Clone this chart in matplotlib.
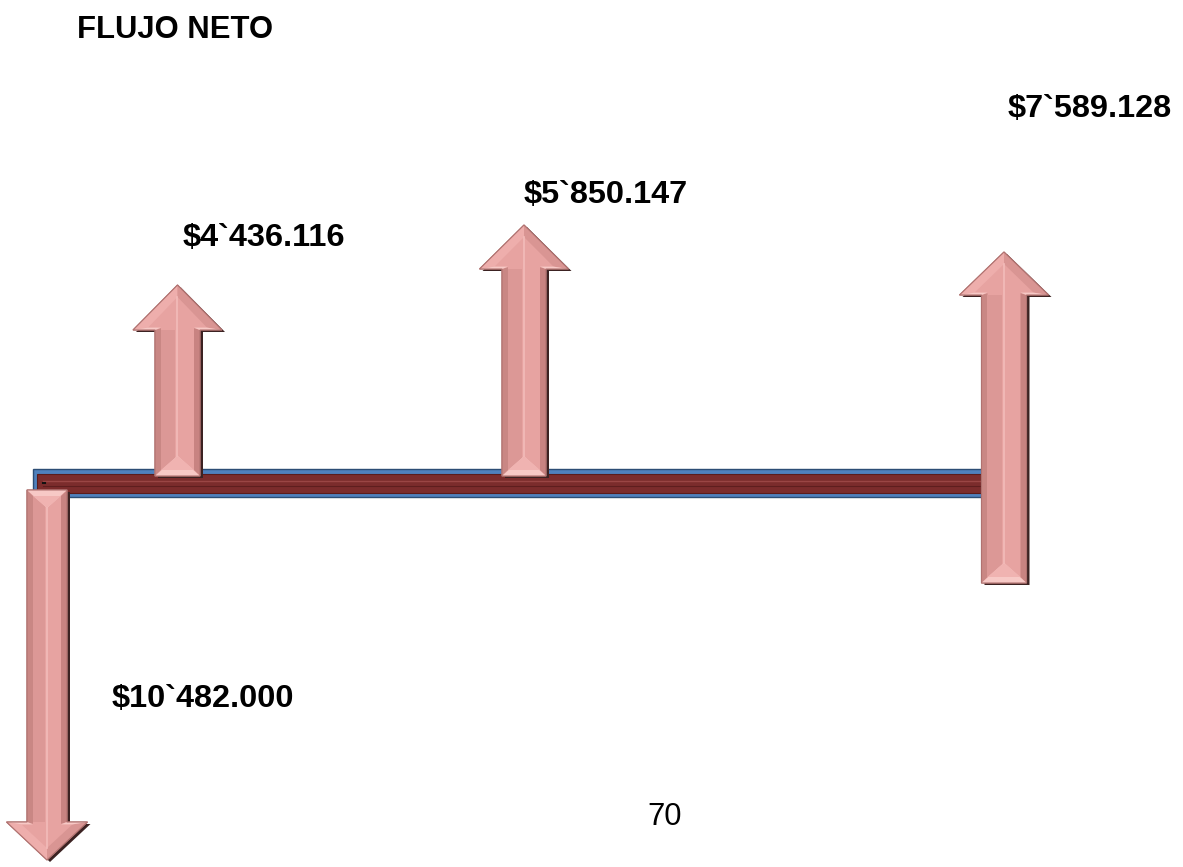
import matplotlib as mpl
import matplotlib.pyplot as plt
from matplotlib.patches import Polygon, Rectangle

mpl.rc("font", family=["Liberation Sans", "DejaVu Sans"])

# net cash flow per period (diagram values)
periods = [0, 1, 2, 3]
flows = [-10482000, 4436116, 5850147, 7589128]
flow_labels = ["$10`482.000", "$4`436.116", "$5`850.147", "$7`589.128"]
title = "FLUJO NETO"
page_number = "70"

# layout of the diagram (pixel space of the page)
W, H = 1183, 867
arrow_x = [47, 177.5, 524, 1004]
arrow_base = [490, 476, 476, 583]      # end of the shaft away from the tip
arrow_tip = [860, 285, 225, 252]
shaft_hw = [20, 22.5, 22, 22.5]
head_hw = [40.5, 44.5, 44.5, 44.5]
head_len = [38, 45, 44, 43]
label_xy = [(112, 707), (183, 246), (524, 203), (1008, 117)]

line_x0, line_x1 = 33, 1024
line_y0, line_y1 = 469, 497

PINK = "#e7a3a1"
PINK_DARK = "#c98784"
PINK_LIGHT = "#f7c9c6"
PINK_EDGE = "#b07270"
SHADOW = "#3c2222"


def draw_arrow(ax, cx, base, tip, w, hw, hl):
    s = 1 if tip < base else -1          # +1 for up arrows
    hb = tip + s * hl                   # head base y
    b = 6                               # bevel size
    outline = [(cx - w, base), (cx - w, hb), (cx - hw, hb), (cx, tip),
               (cx + hw, hb), (cx + w, hb), (cx + w, base)]
    shadow = [(x + 3, y + 2) for x, y in outline]
    ax.add_patch(Polygon(shadow, closed=True, fc=SHADOW, ec="none", zorder=3))
    ax.add_patch(Polygon(outline, closed=True, fc=PINK, ec=PINK_EDGE, lw=0.8, zorder=4))
    # shaft faces
    ax.add_patch(Polygon([(cx - w, base), (cx - w, hb), (cx - w + b, hb - s * b * 0.3),
                          (cx - w + b, base - s * b)], fc=PINK_DARK, ec="none", zorder=5))
    ax.add_patch(Polygon([(cx - w + b, base - s * b), (cx - w + b, hb), (cx - 2, hb),
                          (cx - 2, base - s * b)], fc="#dc9896", ec="none", zorder=5))
    ax.add_patch(Polygon([(cx + w, base), (cx + w, hb), (cx + w - b, hb - s * b * 0.3),
                          (cx + w - b, base - s * b)], fc="#c88381", ec="none", zorder=5))
    ax.add_patch(Polygon([(cx - w, base), (cx + w, base), (cx, base - s * w * 0.9)],
                         fc=PINK_LIGHT, ec="none", zorder=6))
    ax.add_patch(Polygon([(cx - w + b, base - s * b), (cx + w - b, base - s * b),
                          (cx, base - s * w * 0.9)], fc="#f0b3b1", ec="none", zorder=6))
    # head faces
    ax.add_patch(Polygon([(cx - hw, hb), (cx, tip), (cx, tip + s * 2 * b),
                          (cx - hw + 2.5 * b, hb - s * b * 0.4)],
                         fc="#eeaeac", ec="none", zorder=5))
    ax.add_patch(Polygon([(cx + hw, hb), (cx, tip), (cx, tip + s * 2 * b),
                          (cx + hw - 2.5 * b, hb - s * b * 0.4)],
                         fc="#d99593", ec="none", zorder=5))
    ax.add_patch(Polygon([(cx - w, hb), (cx - hw, hb), (cx - hw + 2.5 * b, hb - s * b * 0.4),
                          (cx - w + b, hb - s * b * 0.4)], fc=PINK_LIGHT, ec="none", zorder=5))
    ax.add_patch(Polygon([(cx + w, hb), (cx + hw, hb), (cx + hw - 2.5 * b, hb - s * b * 0.4),
                          (cx + w - b, hb - s * b * 0.4)], fc=PINK_LIGHT, ec="none", zorder=5))
    ax.plot([cx, cx], [tip + s * 2 * b, base - s * w * 0.9], color="#f3bcba", lw=1.2, zorder=6)
    ax.add_patch(Polygon(outline, closed=True, fc="none", ec=PINK_EDGE, lw=0.8, zorder=7))


fig = plt.figure(figsize=(W / 100, H / 100), dpi=100)
ax = fig.add_axes([0, 0, 1, 1])
ax.set_xlim(0, W)
ax.set_ylim(H, 0)
ax.axis("off")

# time line
ax.add_patch(Rectangle((line_x0, line_y0), line_x1 - line_x0, line_y1 - line_y0,
                       fc="#4f81bd", ec="#2c4d75", lw=1.0, zorder=1))
ax.add_patch(Rectangle((line_x0 + 4, line_y0 + 5), line_x1 - line_x0 - 6, line_y1 - line_y0 - 9,
                       fc="#7b2c2c", ec="#5a1c1c", lw=0.8, zorder=2))
ax.plot([line_x0 + 10, line_x1 - 4], [(line_y0 + line_y1) / 2 - 2] * 2,
        color="#9a4645", lw=1.0, zorder=2)
ax.plot([line_x0 + 10, line_x1 - 4], [(line_y0 + line_y1) / 2 + 3] * 2,
        color="#5e1e1e", lw=0.8, zorder=2)
ax.plot([line_x0 + 10, line_x0 + 12], [(line_y0 + line_y1) / 2] * 2,
        color="#111111", lw=1.5, zorder=2)
ax.plot([line_x1 + 2, line_x1 + 2], [line_y0 + 1, line_y1], color="#111111", lw=2.5, zorder=1)

for p in periods:
    draw_arrow(ax, arrow_x[p], arrow_base[p], arrow_tip[p], shaft_hw[p], head_hw[p], head_len[p])
    lx, ly = label_xy[p]
    ax.text(lx, ly, flow_labels[p], fontsize=23.4, fontweight="bold",
            ha="left", va="baseline", zorder=10)

ax.text(77, 38, title, fontsize=22.3, fontweight="bold", ha="left", va="baseline")
ax.text(647, 825, page_number, fontsize=22.3, ha="left", va="baseline")

fig.savefig("out.png", dpi=100)
